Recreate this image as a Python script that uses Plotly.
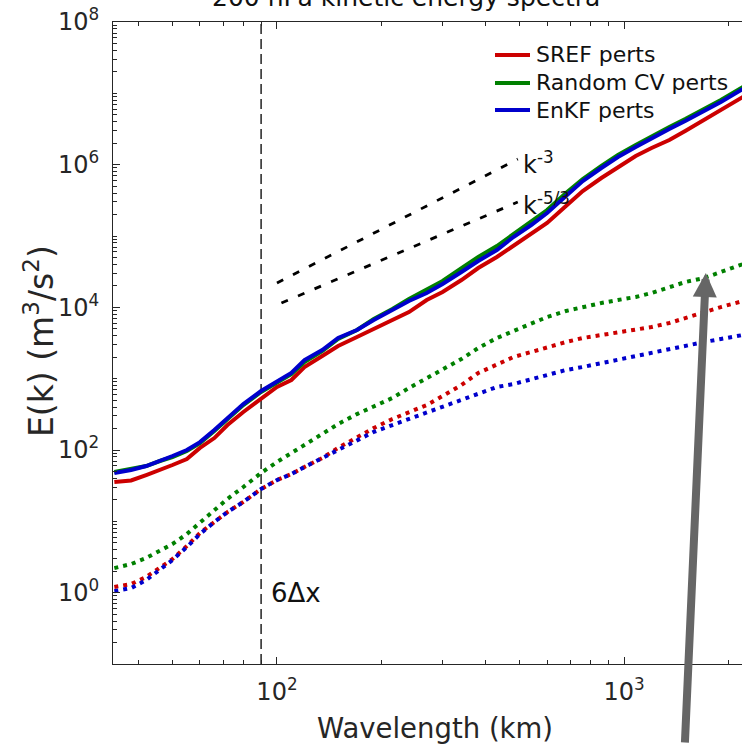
import numpy as np
import plotly.graph_objects as go

# ---------------- data ----------------
wavelength_km = [34, 38, 42, 46, 50, 55, 60, 66, 72, 80, 90, 100, 110, 120, 135, 150, 170, 190,
                 215, 240, 270, 300, 340, 380, 430, 480, 540, 600, 680, 760, 860, 960, 1080,
                 1200, 1350, 1500, 1700, 1900, 2200]

sref_solid = [35.6, 37.4, 44.6, 52.4, 61.6, 74.8, 107, 147, 224, 341, 519, 764, 958, 1457, 2080,
              2871, 3837, 4966, 6430, 8593, 12680, 16400, 24160, 35560, 50730, 72400, 106700,
              152100, 263000, 427200, 649800, 926500, 1.322e6, 1.713e6, 2.218e6, 2.965e6,
              4.231e6, 5.838e6, 8.892e6]
randcv_solid = [49.1, 54.1, 59.6, 70.1, 79.7, 96.8, 125, 185, 272, 427, 650, 869, 1162, 1711, 2443,
                3597, 4808, 6856, 9466, 13090, 17500, 23390, 35560, 50730, 72400, 106700, 157100,
                231300, 400600, 629500, 957500, 1.365e6, 1.887e6, 2.522e6, 3.373e6, 4.366e6,
                6.031e6, 8.054e6, 1.227e7]
enkf_solid = [47.6, 52.4, 59.6, 70.1, 82.4, 100, 129, 191, 281, 441, 671, 898, 1200, 1825, 2522,
              3715, 4808, 6637, 9166, 12270, 15880, 21240, 31260, 44590, 63620, 96830, 142600,
              210000, 363700, 590000, 897900, 1.280e6, 1.770e6, 2.366e6, 3.162e6, 4.096e6,
              5.653e6, 7.553e6, 1.151e7]

sref_dotted = [1.20, 1.32, 1.66, 2.21, 2.96, 4.51, 6.86, 9.78, 13.5, 18.7, 28.4, 37.9, 46.0, 57.7,
               77.2, 107, 152, 203, 272, 341, 427, 571, 815, 1200, 1553, 2012, 2364, 2778, 3264,
               3715, 4093, 4366, 4808, 5296, 6029, 7083, 8593, 10090, 12270]
randcv_dotted = [2.21, 2.52, 3.06, 3.84, 4.81, 6.64, 9.46, 14.4, 20.6, 30.3, 47.6, 67.9, 90.7, 117,
                 168, 231, 319, 414, 536, 740, 1021, 1365, 1885, 2690, 3715, 4656, 5834, 7311,
                 8872, 10090, 11500, 12670, 13960, 15880, 19270, 22640, 25760, 31260, 40470]
enkf_dotted = [1.05, 1.16, 1.50, 2.08, 2.87, 4.36, 6.64, 9.78, 13.5, 18.7, 28.4, 37.9, 46.0, 57.7,
               77.2, 103, 138, 179, 224, 272, 330, 401, 502, 609, 764, 841, 988, 1125, 1322,
               1457, 1657, 1825, 2080, 2289, 2606, 2871, 3264, 3597, 4093]

series_names = ["SREF perts", "Random CV perts", "EnKF perts"]

# reference slopes (as drawn)
k3_wavelength = [100, 494]
k3_energy = [2.19e4, 1.20e6]
k53_wavelength = [103, 494]
k53_energy = [1.15e4, 2.99e5]

six_dx_km = 90          # 6 * 15 km grid spacing
x_limits = [33.7, 2186]
y_limits = [1e-1, 1e8]

x_tick_vals = [100, 1000]
x_tick_text = ["10<sup>2</sup>", "10<sup>3</sup>"]
y_tick_vals = [1, 1e2, 1e4, 1e6, 1e8]
y_tick_text = ["10<sup>0</sup>", "10<sup>2</sup>", "10<sup>4</sup>", "10<sup>6</sup>", "10<sup>8</sup>"]

arrow_tip_km = 1720
arrow_tip_energy = 3.03e4

# ---------------- styling ----------------
FONT = "DejaVu Sans"
TXT = "#262626"
DARK = "#111111"
RED, GREEN, BLUE = "#cc0000", "#008000", "#0000cc"
colors = [RED, GREEN, BLUE]

fig = go.Figure()

# vertical 6 dx line
fig.add_trace(go.Scatter(x=[six_dx_km, six_dx_km], y=y_limits, mode="lines",
                         line=dict(color="black", width=1.3, dash="10px,5px"),
                         showlegend=False, hoverinfo="skip"))

# reference slope lines
for xs, ys in [(k3_wavelength, k3_energy), (k53_wavelength, k53_energy)]:
    fig.add_trace(go.Scatter(x=xs, y=ys, mode="lines",
                             line=dict(color="black", width=2.8, dash="7px,11px"),
                             showlegend=False, hoverinfo="skip"))

# dotted spectra
for vals, c in zip([sref_dotted, randcv_dotted, enkf_dotted], colors):
    fig.add_trace(go.Scatter(x=wavelength_km, y=vals, mode="lines",
                             line=dict(color=c, width=4, dash="4px,5px"),
                             showlegend=False))

# solid spectra
for vals, c, n in zip([sref_solid, randcv_solid, enkf_solid], colors, series_names):
    fig.add_trace(go.Scatter(x=wavelength_km, y=vals, mode="lines", name=n,
                             line=dict(color=c, width=4), showlegend=False))

x_minor = [v * 10 ** d for d in (1, 2, 3) for v in range(2, 10)]
y_minor = [v * 10.0 ** d for d in range(-1, 8) for v in range(2, 10)] + [10.0 ** d for d in (1, 3, 5, 7)]

L, R, T, B, W, H = 113, 0, 22, 80, 742, 744
PW, PH = W - L - R, H - T - B


def px(xp):
    return (xp - L) / PW


def py(yp):
    return (H - B - yp) / PH


fig.update_layout(
    width=W, height=H,
    margin=dict(l=L, r=R, t=T, b=B),
    paper_bgcolor="white", plot_bgcolor="white",
    font=dict(family=FONT, color=TXT, size=24),
    showlegend=False,
    xaxis=dict(type="log", range=[np.log10(x_limits[0]), np.log10(x_limits[1])],
               showline=True, linecolor=TXT, linewidth=1, mirror="ticks",
               ticks="inside", ticklen=7, tickcolor=TXT,
               tickvals=x_tick_vals, ticktext=x_tick_text, tickfont=dict(size=24),
               ticklabelstandoff=6,
               showgrid=False, zeroline=False,
               minor=dict(ticks="inside", ticklen=4, tickcolor=TXT, tickvals=x_minor, showgrid=False)),
    yaxis=dict(type="log", range=[np.log10(y_limits[0]), np.log10(y_limits[1])],
               showline=True, linecolor=TXT, linewidth=1, mirror=False,
               ticks="inside", ticklen=7, tickcolor=TXT,
               tickvals=y_tick_vals, ticktext=y_tick_text, tickfont=dict(size=24),
               ticklabelstandoff=8,
               showgrid=False, zeroline=False,
               minor=dict(ticks="inside", ticklen=4, tickcolor=TXT, tickvals=y_minor, showgrid=False)),
)

# axis titles
fig.add_annotation(text="Wavelength (km)", xref="paper", yref="paper",
                   x=px(435), y=py(728), xanchor="center", yanchor="middle",
                   showarrow=False, font=dict(size=27.5, color=TXT))
fig.add_annotation(text="E(k) (m<sup>3</sup>/s<sup>2</sup>)", xref="paper", yref="paper",
                   x=px(39), y=py(341), xanchor="center", yanchor="middle", textangle=-90,
                   showarrow=False, font=dict(size=33, color=TXT))

# manual legend
for name, c, yy in zip(series_names, colors, [55, 83, 110]):
    fig.add_shape(type="line", xref="paper", yref="paper",
                  x0=px(495), x1=px(530), y0=py(yy), y1=py(yy),
                  line=dict(color=c, width=4))
    fig.add_annotation(text=name, xref="paper", yref="paper", x=px(534), y=py(yy),
                       xanchor="left", yanchor="middle", showarrow=False,
                       font=dict(size=22, color=DARK))

# title (partly above the visible page)
fig.add_annotation(text="200 hPa kinetic energy spectra", xref="paper", yref="paper",
                   x=px(406), y=1, xanchor="center", yanchor="bottom", yshift=8,
                   showarrow=False, font=dict(size=25, color=DARK))

# slope labels
fig.add_annotation(text="k<sup>-3</sup>", x=np.log10(505), y=np.log10(1.05e6),
                   xanchor="left", yanchor="middle", showarrow=False,
                   font=dict(size=24, color=DARK))
fig.add_annotation(text="k<sup>-5/3</sup>", x=np.log10(505), y=np.log10(2.8e5),
                   xanchor="left", yanchor="middle", showarrow=False,
                   font=dict(size=24, color=DARK))
# 6 dx label
fig.add_annotation(text="6\u0394x", x=np.log10(95), y=0.0,
                   xanchor="left", yanchor="middle", showarrow=False,
                   font=dict(size=26, color=DARK))

# gray arrow
fig.add_annotation(text="", x=np.log10(arrow_tip_km), y=np.log10(arrow_tip_energy),
                   ax=-21, ay=487, showarrow=True, arrowhead=2, arrowsize=0.6,
                   arrowwidth=8, arrowcolor="#666666")

fig.write_html("out.html")
